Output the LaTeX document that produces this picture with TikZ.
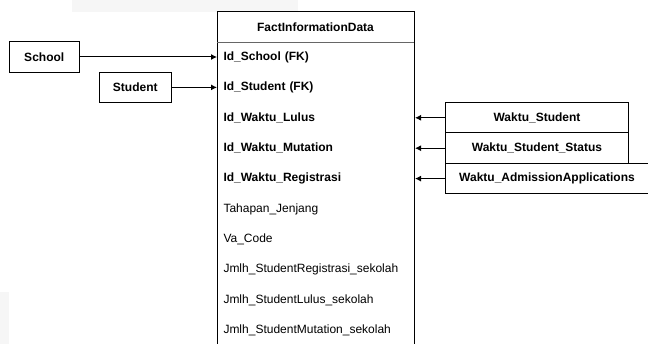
\documentclass[tikz,border=0pt]{standalone}
\usepackage{fontspec}
\setmainfont{Liberation Sans}
\usetikzlibrary{arrows.meta, positioning}

\newcommand{\fsz}{\fontsize{12}{14}\selectfont}

\begin{document}
\begin{tikzpicture}[x=1pt, y=-1pt, >={Latex[length=6pt, width=6pt]}, line width=1pt,
    entity/.style={draw, minimum height=30.4pt, inner sep=0pt, font=\fsz\bfseries},
    field/.style={anchor=west, text width=185pt, inner xsep=6pt, inner ysep=0pt,
      minimum height=30pt, align=left, font=\fsz},
    link/.style={->}]
  \useasboundingbox (0,0) rectangle (648,344);
  % faint marks of the screenshot
  \fill[gray!7] (72,0) rectangle (298,12);
  \fill[gray!7] (0,292) rectangle (9,344);

  % fact table
  \draw (217,12) rectangle (414,360);
  \draw[black!60] (217,42.7) -- (414,42.7);
  \node[font=\fsz\bfseries] (head) at (315.5,27) {FactInformationData};
  \foreach \txt [count=\i] in {Id\_School (FK), Id\_Student (FK), Id\_Waktu\_Lulus,
      Id\_Waktu\_Mutation, Id\_Waktu\_Registrasi}
    \node[field, font=\fsz\bfseries] (f\i) at (217,26.6+30.4*\i) {\txt};
  \foreach \txt [count=\i from 6] in {Tahapan\_Jenjang, Va\_Code,
      Jmlh\_StudentRegistrasi\_sekolah, Jmlh\_StudentLulus\_sekolah,
      Jmlh\_StudentMutation\_sekolah}
    \node[field] (f\i) at (217,26.6+30.4*\i) {\txt};

  % dimensions
  \node[entity, minimum width=70.5pt, left=137pt of f1] (school) {School};
  \node[entity, minimum width=71.5pt, left=45.5pt of f2] (student) {Student};
  \node[entity, minimum width=183pt, right=30pt of f3] (wstud) {Waktu\_Student};
  \node[entity, minimum width=183pt, right=30pt of f4] (wstat) {Waktu\_Student\_Status};
  \node[entity, minimum width=203pt, right=30pt of f5] (wadm) {Waktu\_AdmissionApplications};

  \draw[link] (school) -- (f1);
  \draw[link] (student) -- (f2);
  \draw[link] (wstud) -- (f3);
  \draw[link] (wstat) -- (f4);
  \draw[link] (wadm) -- (f5);
\end{tikzpicture}
\end{document}
